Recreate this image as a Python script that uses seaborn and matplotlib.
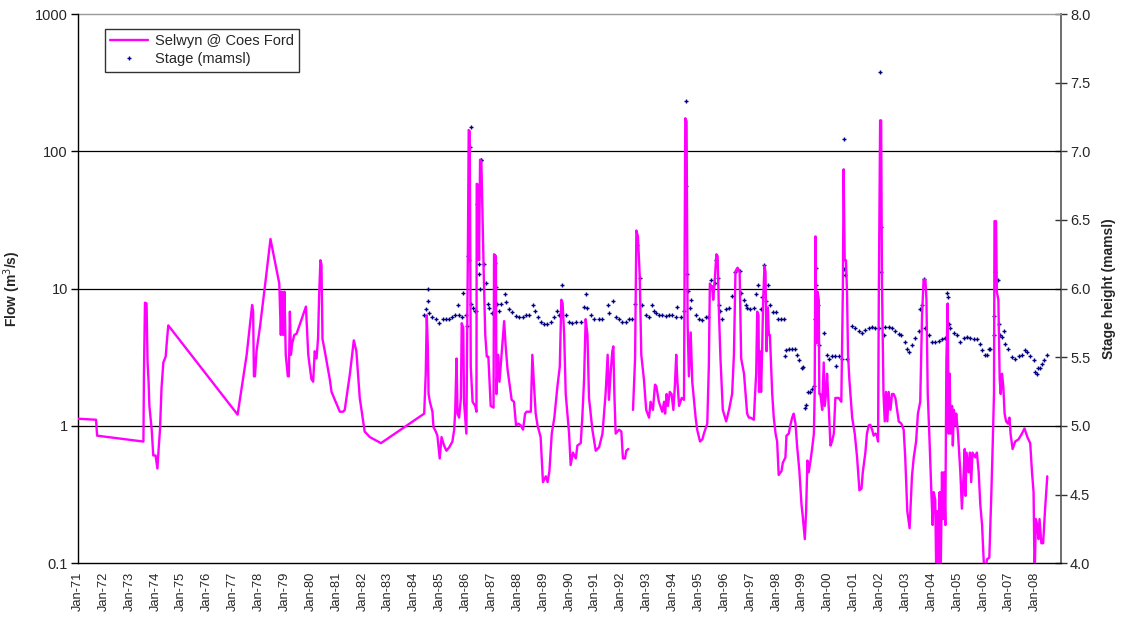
import numpy as np
import pandas as pd
import matplotlib
matplotlib.use("Agg")
import matplotlib.pyplot as plt
from matplotlib.lines import Line2D
from matplotlib.ticker import FixedLocator, FixedFormatter, NullLocator
import seaborn as sns

# ---------------- data ----------------
flow_year = [
    1971.00, 1971.71, 1971.75, 1973.54, 1973.56, 1973.60, 1973.66, 1973.70, 1973.74, 1973.77,
    1973.86, 1973.92, 1974.01, 1974.08, 1974.13, 1974.18, 1974.24, 1974.31, 1974.40, 1974.44,
    1974.50, 1977.18, 1977.53, 1977.74, 1977.78, 1977.81, 1977.85, 1977.91, 1978.04, 1978.23,
    1978.45, 1978.79, 1978.85, 1978.89, 1978.94, 1978.99, 1979.04, 1979.12, 1979.16, 1979.20,
    1979.24, 1979.29, 1979.37, 1979.46, 1979.82, 1979.91, 1980.03, 1980.10, 1980.16, 1980.23,
    1980.29, 1980.33, 1980.38, 1980.42, 1980.46, 1980.55, 1980.74, 1980.81, 1981.13, 1981.26,
    1981.32, 1981.52, 1981.67, 1981.77, 1981.90, 1982.09, 1982.29, 1982.72, 1984.39, 1984.45,
    1984.49, 1984.53, 1984.56, 1984.61, 1984.71, 1984.75, 1984.84, 1984.90, 1984.99, 1985.06,
    1985.16, 1985.25, 1985.36, 1985.48, 1985.55, 1985.59, 1985.64, 1985.68, 1985.74, 1985.81,
    1985.84, 1985.90, 1985.93, 1986.02, 1986.08, 1986.11, 1986.15, 1986.19, 1986.26, 1986.36,
    1986.41, 1986.42, 1986.47, 1986.51, 1986.55, 1986.60, 1986.64, 1986.69, 1986.75, 1986.81,
    1986.87, 1986.96, 1987.07, 1987.09, 1987.16, 1987.18, 1987.25, 1987.30, 1987.39, 1987.48,
    1987.54, 1987.61, 1987.77, 1987.86, 1987.94, 1988.03, 1988.12, 1988.21, 1988.29, 1988.35,
    1988.51, 1988.57, 1988.64, 1988.70, 1988.77, 1988.89, 1988.96, 1988.98, 1989.09, 1989.16,
    1989.23, 1989.32, 1989.42, 1989.54, 1989.63, 1989.69, 1989.74, 1989.80, 1989.86, 1989.99,
    1990.05, 1990.14, 1990.25, 1990.31, 1990.44, 1990.50, 1990.57, 1990.63, 1990.70, 1990.76,
    1990.89, 1991.02, 1991.15, 1991.28, 1991.40, 1991.48, 1991.53, 1991.60, 1991.66, 1991.70,
    1991.74, 1991.79, 1991.92, 1992.01, 1992.07, 1992.15, 1992.20, 1992.28,
    1992.46, 1992.54, 1992.59, 1992.65, 1992.72, 1992.78, 1992.88, 1992.97, 1993.08, 1993.14,
    1993.23, 1993.31, 1993.36, 1993.46, 1993.59, 1993.66, 1993.70, 1993.76, 1993.81, 1993.88,
    1993.95, 1994.02, 1994.08, 1994.13, 1994.17, 1994.24, 1994.34, 1994.43, 1994.48, 1994.53,
    1994.57, 1994.62, 1994.69, 1994.75, 1994.81, 1994.88, 1994.94, 1995.05, 1995.14, 1995.20,
    1995.33, 1995.39, 1995.43, 1995.52, 1995.56, 1995.63, 1995.68, 1995.73, 1995.78, 1995.84,
    1995.93, 1996.06, 1996.17, 1996.29, 1996.36, 1996.42, 1996.50, 1996.58, 1996.64, 1996.75,
    1996.87, 1996.94, 1997.00, 1997.13, 1997.17, 1997.22, 1997.26, 1997.31, 1997.33, 1997.37,
    1997.41, 1997.45, 1997.49, 1997.54, 1997.58, 1997.62, 1997.67, 1997.71, 1997.75, 1997.79,
    1997.84, 1997.90, 1997.97, 1998.03, 1998.09, 1998.20, 1998.25, 1998.35, 1998.39, 1998.48,
    1998.54, 1998.61, 1998.67, 1998.74, 1998.80, 1998.89, 1998.97, 1999.03, 1999.10, 1999.15,
    1999.20, 1999.25, 1999.32, 1999.38, 1999.45, 1999.48, 1999.51, 1999.55, 1999.59, 1999.64,
    1999.66, 1999.70, 1999.77, 1999.83, 1999.87, 1999.92, 1999.96, 2000.00, 2000.05, 2000.09,
    2000.15, 2000.22, 2000.28, 2000.41, 2000.51, 2000.57, 2000.60, 2000.64, 2000.69, 2000.73,
    2000.77, 2000.82, 2000.93, 2001.03, 2001.12, 2001.21, 2001.29, 2001.34, 2001.44, 2001.50,
    2001.57, 2001.63, 2001.70, 2001.76, 2001.83, 2001.89, 2001.93, 2001.96, 2002.01, 2002.05,
    2002.08, 2002.14, 2002.19, 2002.24, 2002.29, 2002.34, 2002.41, 2002.47, 2002.53, 2002.60,
    2002.73, 2002.83, 2002.92, 2002.98, 2003.06, 2003.15, 2003.24, 2003.31, 2003.40, 2003.47,
    2003.56, 2003.63, 2003.69, 2003.76, 2003.80, 2003.85, 2003.91, 2003.99, 2004.04, 2004.08,
    2004.14, 2004.18, 2004.23, 2004.27, 2004.31, 2004.35, 2004.40, 2004.44, 2004.48, 2004.53,
    2004.57, 2004.62, 2004.66, 2004.70, 2004.73, 2004.79, 2004.82, 2004.86, 2004.92, 2004.95,
    2005.02, 2005.11, 2005.17, 2005.24, 2005.28, 2005.31, 2005.35, 2005.43, 2005.48, 2005.53,
    2005.58, 2005.69, 2005.75, 2005.82, 2005.88, 2005.95, 2006.01, 2006.05, 2006.14, 2006.23,
    2006.31, 2006.36, 2006.41, 2006.43, 2006.49, 2006.52, 2006.58, 2006.63, 2006.67, 2006.72,
    2006.77, 2006.82, 2006.88, 2006.95, 2007.01, 2007.05, 2007.13, 2007.23, 2007.36, 2007.49,
    2007.59, 2007.70, 2007.81, 2007.88, 2007.94, 2007.98, 2008.03, 2008.08, 2008.13, 2008.17,
    2008.24, 2008.31, 2008.38, 2008.47,
]
flow_value = [
    1.13, 1.11, 0.85, 0.77, 2.4, 7.9, 7.8, 2.9, 2.1, 1.4,
    0.94, 0.61, 0.61, 0.49, 0.69, 0.94, 1.9, 2.9, 3.2, 4.0,
    5.4, 1.21, 3.3, 7.6, 6.8, 2.3, 2.3, 3.5, 5.2, 10.2,
    23, 10.9, 4.6, 9.5, 4.6, 9.5, 3.3, 2.3, 2.3, 6.8,
    3.3, 4.0, 4.6, 4.7, 7.4, 3.3, 2.2, 2.1, 3.5, 3.1,
    4.4, 8.9, 16.1, 15.1, 4.3, 3.5, 2.2, 1.77, 1.27, 1.27,
    1.31, 2.4, 4.2, 3.5, 1.60, 0.91, 0.83, 0.75, 1.23, 2.4,
    6.4, 3.8, 1.71, 1.50, 1.27, 0.98, 0.91, 0.85, 0.58, 0.83,
    0.72, 0.66, 0.70, 0.77, 0.94, 1.31, 3.1, 1.23, 1.15, 1.60,
    5.6, 5.2, 1.50, 0.88, 20, 143, 140, 2.7, 1.50, 1.40,
    1.27, 58, 57, 16.1, 87, 84, 36, 13.3, 4.6, 3.2,
    3.2, 1.40, 1.36, 17.8, 17.3, 1.71, 3.3, 2.1, 3.5, 5.8,
    3.8, 2.6, 1.55, 1.50, 1.01, 1.04, 1.01, 0.94, 1.23, 1.27,
    1.27, 3.3, 1.89, 1.23, 1.01, 0.83, 0.47, 0.39, 0.43, 0.39,
    0.47, 0.88, 1.15, 1.95, 2.7, 8.3, 7.8, 4.6, 1.71, 0.88,
    0.52, 0.64, 0.58, 0.72, 0.75, 1.15, 2.2, 6.0, 4.6, 1.60,
    0.94, 0.66, 0.70, 0.88, 1.71, 3.3, 1.55, 2.5, 3.5, 3.8,
    1.71, 0.88, 0.94, 0.91, 0.58, 0.58, 0.66, 0.68,
    1.31, 3.1, 26.5, 24, 12.4, 3.3, 2.2, 1.31, 1.15, 1.50,
    1.31, 2.0, 1.95, 1.50, 1.27, 1.50, 1.23, 1.71, 1.40, 1.77,
    1.71, 1.31, 2.0, 3.3, 2.2, 1.40, 1.60, 1.55, 174, 165,
    5.6, 2.3, 4.8, 2.1, 1.60, 1.15, 0.94, 0.77, 0.80, 0.88,
    1.04, 2.7, 10.9, 10.2, 8.3, 12.4, 17.8, 17.3, 6.8, 3.1,
    1.31, 1.08, 1.31, 1.71, 3.3, 13.3, 14.2, 13.3, 3.1, 2.4,
    1.23, 1.15, 1.15, 1.11, 1.60, 2.4, 6.8, 6.4, 1.77, 3.5,
    1.77, 3.5, 8.3, 14.6, 13.3, 3.5, 7.3, 4.6, 4.6, 2.9,
    1.71, 1.15, 0.88, 0.77, 0.44, 0.47, 0.54, 0.59, 0.85, 0.88,
    1.01, 1.15, 1.23, 1.04, 0.72, 0.47, 0.27, 0.21, 0.15, 0.24,
    0.56, 0.46, 0.56, 0.68, 0.88, 1.71, 24, 4.0, 9.5, 8.3,
    1.71, 1.71, 1.31, 2.9, 1.40, 1.71, 2.4, 1.71, 1.08, 0.72,
    0.77, 0.88, 1.60, 1.60, 1.50, 9.8, 74, 16.1, 16.1, 9.5,
    3.3, 2.2, 1.15, 0.88, 0.59, 0.34, 0.35, 0.46, 0.64, 0.88,
    1.01, 1.02, 0.94, 0.85, 0.88, 0.85, 0.77, 9.5, 168, 168,
    11.6, 1.71, 1.08, 1.77, 1.08, 1.77, 1.31, 1.71, 1.71, 1.60,
    1.08, 1.04, 0.94, 0.59, 0.24, 0.18, 0.43, 0.59, 0.77, 1.23,
    1.50, 6.4, 11.6, 11.6, 8.3, 1.71, 0.88, 0.33, 0.19, 0.33,
    0.29, 0.08, 0.24, 0.08, 0.33, 0.08, 0.46, 0.21, 0.46, 0.19,
    3.0, 7.8, 0.88, 2.4, 0.88, 1.40, 0.72, 1.31, 1.01, 1.23,
    0.88, 0.46, 0.25, 0.46, 0.68, 0.31, 0.64, 0.46, 0.64, 0.39,
    0.64, 0.59, 0.64, 0.46, 0.27, 0.19, 0.107, 0.08, 0.107, 0.11,
    0.33, 0.72, 1.71, 31, 31, 9.5, 8.3, 2.2, 1.71, 2.4,
    1.95, 1.23, 1.08, 1.04, 1.15, 0.88, 0.68, 0.77, 0.80, 0.88,
    0.96, 0.83, 0.75, 0.46, 0.33, 0.08, 0.21, 0.19, 0.15, 0.21,
    0.14, 0.14, 0.24, 0.43,
]
flow_gap_after = 1992.30  # record break between 1992.28 and 1992.46

stage_year = [
    1984.39, 1984.45, 1984.52, 1984.54, 1984.58, 1984.71, 1984.84, 1984.97, 1985.10, 1985.23,
    1985.36, 1985.48, 1985.59, 1985.68, 1985.74, 1985.87, 1985.90, 1986.00, 1986.06, 1986.10,
    1986.13, 1986.15, 1986.18, 1986.20, 1986.26, 1986.36, 1986.41, 1986.45, 1986.46, 1986.49,
    1986.51, 1986.54, 1986.58, 1986.60, 1986.71, 1986.77, 1986.84, 1986.90, 1987.03, 1987.09,
    1987.13, 1987.18, 1987.22, 1987.29, 1987.35, 1987.52, 1987.57, 1987.67, 1987.80, 1987.93,
    1988.06, 1988.19, 1988.32, 1988.44, 1988.60, 1988.66, 1988.77, 1988.89, 1989.02, 1989.15,
    1989.28, 1989.41, 1989.54, 1989.60, 1989.71, 1989.86, 1989.99, 1990.12, 1990.25, 1990.44,
    1990.55, 1990.63, 1990.70, 1990.82, 1990.95, 1991.15, 1991.28, 1991.51, 1991.53, 1991.70,
    1991.79, 1991.92, 1992.05, 1992.18, 1992.31, 1992.43, 1992.54, 1992.60, 1992.72, 1992.79,
    1992.95, 1993.08, 1993.18, 1993.27, 1993.33, 1993.46, 1993.59, 1993.72, 1993.85, 1993.98,
    1994.11, 1994.17, 1994.30, 1994.43, 1994.49, 1994.52, 1994.56, 1994.58, 1994.65, 1994.72,
    1994.88, 1995.01, 1995.14, 1995.27, 1995.37, 1995.46, 1995.52, 1995.63, 1995.68, 1995.75,
    1995.78, 1995.84, 1995.91, 1996.04, 1996.17, 1996.29, 1996.42, 1996.49, 1996.58, 1996.65,
    1996.75, 1996.81, 1996.87, 1997.00, 1997.13, 1997.23, 1997.30, 1997.39, 1997.45, 1997.54,
    1997.60, 1997.68, 1997.77, 1997.88, 1997.97, 1998.06, 1998.16, 1998.29, 1998.33, 1998.39,
    1998.48, 1998.61, 1998.71, 1998.80, 1998.89, 1998.99, 1999.03, 1999.10, 1999.15, 1999.21,
    1999.30, 1999.38, 1999.45, 1999.51, 1999.52, 1999.54, 1999.61, 1999.66, 1999.83, 1999.96,
    2000.05, 2000.15, 2000.26, 2000.32, 2000.41, 2000.54, 2000.60, 2000.62, 2000.64, 2000.73,
    2000.93, 2001.05, 2001.18, 2001.31, 2001.44, 2001.57, 2001.70, 2001.83, 2001.96, 2002.01,
    2002.03, 2002.06, 2002.15, 2002.21, 2002.34, 2002.47, 2002.60, 2002.73, 2002.83, 2002.98,
    2003.05, 2003.11, 2003.24, 2003.37, 2003.50, 2003.56, 2003.63, 2003.69, 2003.76, 2003.89,
    2004.01, 2004.14, 2004.27, 2004.40, 2004.53, 2004.59, 2004.63, 2004.66, 2004.72, 2004.85,
    2004.98, 2005.11, 2005.24, 2005.37, 2005.49, 2005.62, 2005.75, 2005.88, 2005.95, 2006.05,
    2006.14, 2006.20, 2006.27, 2006.40, 2006.43, 2006.46, 2006.50, 2006.55, 2006.61, 2006.65,
    2006.72, 2006.78, 2006.85, 2006.97, 2007.10, 2007.23, 2007.36, 2007.49, 2007.62, 2007.68,
    2007.81, 2007.94, 2008.01, 2008.07, 2008.13, 2008.20, 2008.26, 2008.36, 2008.45,
]
stage_value = [
    5.81, 5.85, 5.91, 6.00, 5.82, 5.79, 5.78, 5.75, 5.78, 5.78,
    5.78, 5.79, 5.81, 5.88, 5.81, 5.79, 5.97, 5.81, 5.73, 6.24,
    6.21, 7.03, 7.18, 5.89, 5.86, 5.84, 5.84, 6.62, 6.68, 6.11,
    6.18, 6.00, 6.94, 6.94, 6.18, 6.04, 5.89, 5.86, 5.82, 5.82,
    6.19, 6.01, 5.89, 5.84, 5.89, 5.96, 5.90, 5.85, 5.83, 5.80,
    5.79, 5.79, 5.81, 5.81, 5.88, 5.84, 5.79, 5.76, 5.74, 5.74,
    5.76, 5.79, 5.84, 5.81, 6.03, 5.81, 5.76, 5.75, 5.76, 5.76,
    5.87, 5.96, 5.86, 5.81, 5.78, 5.78, 5.78, 5.88, 5.82, 5.91,
    5.79, 5.78, 5.76, 5.76, 5.78, 5.78, 5.89, 6.32, 6.08, 5.88,
    5.81, 5.79, 5.88, 5.84, 5.82, 5.81, 5.81, 5.80, 5.81, 5.81,
    5.79, 5.87, 5.79, 5.84, 7.37, 6.75, 6.11, 5.98, 5.86, 5.92,
    5.81, 5.78, 5.77, 5.79, 5.79, 6.06, 6.01, 6.04, 6.21, 6.08,
    5.88, 5.84, 5.78, 5.85, 5.86, 5.95, 6.12, 6.14, 6.13, 5.97,
    5.92, 5.88, 5.86, 5.85, 5.86, 5.96, 6.03, 5.85, 5.94, 6.17,
    5.91, 6.03, 5.88, 5.83, 5.83, 5.78, 5.78, 5.78, 5.51, 5.55,
    5.56, 5.56, 5.56, 5.52, 5.48, 5.42, 5.43, 5.13, 5.15, 5.25,
    5.25, 5.27, 5.29, 5.78, 6.15, 6.03, 5.88, 5.59, 5.68, 5.52,
    5.49, 5.51, 5.51, 5.44, 5.51, 5.49, 7.09, 6.14, 6.10, 5.49,
    5.73, 5.71, 5.69, 5.68, 5.70, 5.71, 5.72, 5.71, 5.71, 7.58,
    6.45, 6.12, 5.66, 5.72, 5.72, 5.71, 5.69, 5.67, 5.66, 5.61,
    5.56, 5.54, 5.59, 5.64, 5.69, 5.85, 5.88, 6.07, 5.71, 5.66,
    5.61, 5.61, 5.62, 5.63, 5.64, 5.97, 5.94, 5.74, 5.71, 5.68,
    5.66, 5.61, 5.64, 5.65, 5.64, 5.63, 5.63, 5.60, 5.55, 5.52,
    5.52, 5.56, 5.56, 5.66, 5.80, 6.12, 6.06, 6.06, 5.74, 5.66,
    5.65, 5.69, 5.60, 5.56, 5.50, 5.49, 5.51, 5.52, 5.55, 5.54,
    5.51, 5.48, 5.39, 5.38, 5.42, 5.42, 5.45, 5.48, 5.52,
]

year_ticks = list(range(1971, 2009))
year_tick_labels = ["Jan-%02d" % (y % 100) for y in year_ticks]
flow_ticks = [0.1, 1, 10, 100, 1000]
flow_tick_labels = ["0.1", "1", "10", "100", "1000"]
stage_ticks = [4.0, 4.5, 5.0, 5.5, 6.0, 6.5, 7.0, 7.5, 8.0]

flow_label = "Selwyn @ Coes Ford"
stage_label = "Stage (mamsl)"

# ---------------- plot ----------------
sns.set_theme(style="white")
plt.rcParams["font.family"] = ["Liberation Sans", "DejaVu Sans"]

W, H = 1122, 618
fig = plt.figure(figsize=(W / 100, H / 100), dpi=100)
x0, x1, ytop, ybot = 77.7, 1061.0, 14.0, 563.3
ax = fig.add_axes([x0 / W, 1 - ybot / H, (x1 - x0) / W, (ybot - ytop) / H])
ax2 = ax.twinx()

flow_df = pd.DataFrame({"year": flow_year, "flow": flow_value})
flow_df["seg"] = (flow_df["year"] > flow_gap_after).astype(int)
stage_df = pd.DataFrame({"year": stage_year, "stage": stage_value})

magenta = "#FF00FF"
navy = "#000080"

ax.set_yscale("log")
sns.lineplot(data=flow_df, x="year", y="flow", units="seg", estimator=None,
             sort=False, color=magenta, linewidth=1.7, ax=ax, legend=False, zorder=3)
sns.scatterplot(data=stage_df, x="year", y="stage", marker="+", s=12,
                color=navy, linewidth=1.0, ax=ax2, legend=False, zorder=4)

ax.set_xlim(1971.0, 2009.0)
ax.set_ylim(0.1, 1000)
ax2.set_ylim(4.0, 8.0)

# gridlines
for v in [1, 10, 100]:
    ax.axhline(v, color="#000000", lw=0.9, zorder=1)
ax.axhline(1000, color="#999999", lw=1.0, zorder=1, clip_on=False)

ax.yaxis.set_major_locator(FixedLocator(flow_ticks))
ax.yaxis.set_major_formatter(FixedFormatter(flow_tick_labels))
ax.yaxis.set_minor_locator(NullLocator())
ax.set_xticks(year_ticks)
ax.set_xticklabels(year_tick_labels, rotation=90, fontsize=9.3)
ax.xaxis.set_minor_locator(NullLocator())
ax2.set_yticks(stage_ticks)
ax2.set_yticklabels(["%.1f" % v for v in stage_ticks])

ax.tick_params(axis="y", which="major", direction="out", length=5, width=1,
               color="#000000", labelsize=10.5, pad=2)
ax.tick_params(axis="x", which="major", direction="out", length=4, width=1,
               color="#000000", pad=2)
ax2.tick_params(axis="y", which="major", direction="inout", length=9, width=1,
                color="#333333", labelsize=10.5, pad=2)

for a in (ax, ax2):
    a.spines["top"].set_visible(False)
    a.set_xlabel("")
for s in ("left", "bottom"):
    ax.spines[s].set_color("#000000")
    ax.spines[s].set_linewidth(1.0)
ax2.spines["right"].set_color("#555555")
ax2.spines["right"].set_linewidth(1.2)
ax2.spines["left"].set_visible(False)
ax2.spines["bottom"].set_visible(False)
ax.spines["right"].set_visible(False)

ax.set_ylabel("Flow (m$^3$/s)", fontsize=10, fontweight="bold", labelpad=9)
ax2.set_ylabel("Stage height (mamsl)", fontsize=10, fontweight="bold", labelpad=8)

handles = [
    Line2D([0], [0], color=magenta, lw=1.7),
    Line2D([0], [0], color=navy, marker="+", linestyle="none", markersize=3.5, mew=1.0),
]
leg = ax.legend(handles, [flow_label, stage_label], loc="upper left",
                bbox_to_anchor=((105 - x0) / (x1 - x0), 1 - (29 - ytop) / (ybot - ytop)),
                borderaxespad=0, fontsize=10.5, frameon=True, fancybox=False,
                handlelength=2.6, handletextpad=0.5, borderpad=0.35, labelspacing=0.3)
leg.get_frame().set_edgecolor("#000000")
leg.get_frame().set_linewidth(1.0)
leg.set_zorder(10)

ax.set_zorder(ax2.get_zorder() + 1)
ax.patch.set_visible(False)

fig.savefig("out.png", dpi=100, facecolor="white")
